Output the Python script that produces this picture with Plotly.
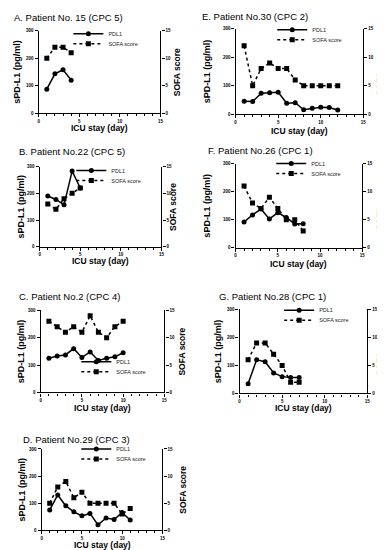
import plotly.graph_objects as go

W, H = 385, 550

# ---------------- data ----------------
panel_titles = [
    "A. Patient No. 15 (CPC 5)",
    "B. Patient No.22 (CPC 5)",
    "C. Patient No.2 (CPC 4)",
    "D. Patient No.29 (CPC 3)",
    "E. Patient No.30 (CPC 2)",
    "F. Patient No.26 (CPC 1)",
    "G. Patient No.28 (CPC 1)",
]

days_A = [1, 2, 3, 4]
pdl1_A = [87, 143, 158, 120]
sofa_A = [10, 12, 12, 11]

days_B = [1, 2, 3, 4, 5]
pdl1_B = [190, 177, 157, 283, 220]
sofa_B = [8, 7, 9, 10, 11]

days_C = [1, 2, 3, 4, 5, 6, 7, 8, 9, 10]
pdl1_C = [125, 133, 137, 160, 128, 148, 117, 125, 130, 145]
sofa_C = [13, 12, 11, 12, 11, 14, 11, 10, 12, 13]

days_D = [1, 2, 3, 4, 5, 6, 7, 8, 9, 10, 11]
pdl1_D = [75, 130, 90, 68, 53, 62, 20, 45, 40, 65, 38]
sofa_D = [5, 8, 9, 6, 7, 5, 5, 5, 5, 3, 4]

days_E = [1, 2, 3, 4, 5, 6, 7, 8, 9, 10, 11, 12]
pdl1_E = [45, 44, 73, 75, 77, 38, 40, 15, 20, 24, 23, 14]
sofa_E = [12, 5, 8, 9, 8, 8, 6, 5, 5, 5, 5, 5]

days_F = [1, 2, 3, 4, 5, 6, 7, 8]
pdl1_F = [92, 117, 138, 103, 125, 108, 85, 86]
sofa_F = [11, 8, 7, 9, 7, 5, 5, 3]

days_G = [1, 2, 3, 4, 5, 6, 7]
pdl1_G = [35, 120, 113, 73, 60, 57, 57]
sofa_G = [6, 9, 9, 7, 5, 2, 2]

x_ticks = [0, 5, 10, 15]
left_ticks = [0, 100, 200, 300]
right_ticks = [0, 5, 10, 15]

series_days = [days_A, days_B, days_C, days_D, days_E, days_F, days_G]
series_pdl1 = [pdl1_A, pdl1_B, pdl1_C, pdl1_D, pdl1_E, pdl1_F, pdl1_G]
series_sofa = [sofa_A, sofa_B, sofa_C, sofa_D, sofa_E, sofa_F, sofa_G]

# ---------------- layout geometry (pixels) ----------------
# plot box: x0, x1, ytop, ybottom
boxes = [
    (30, 153, 21, 104),
    (31, 154, 158, 239),
    (32, 157, 303, 386),
    (33, 155, 443, 525),
    (229, 358, 19, 105),
    (229, 357, 155, 240),
    (233, 362, 302, 387),
]
title_pos = [(3, 8), (8, 143), (8, 289), (12, 433), (193, 7), (199, 142), (210, 289)]
xtitle_y = [119, 253, 402, 540, 122, 256, 402]
ltitle_x = [8, 12, 12, 13, 201, 200, 212]
rtitle_x = [170, 165, 175, 175, 375, 375, 375]
legend_pos = [(93, 33), (96, 171), (101, 364), (101, 452), (299, 29), (298, 164), (306, 312)]

FONT = "Liberation Sans, Arial, sans-serif"


def px(x):
    return x / W


def py(y):
    return 1 - y / H


fig = go.Figure()
layout = dict(
    width=W, height=H,
    margin=dict(l=0, r=0, t=0, b=0),
    paper_bgcolor="white", plot_bgcolor="white",
    font=dict(family=FONT, color="black"),
    showlegend=True,
)
annotations = []

axis_common = dict(
    showline=True, linecolor="black", linewidth=1.3,
    ticks="outside", ticklen=3, tickwidth=1, tickcolor="black",
    showgrid=False, zeroline=False,
    tickfont=dict(size=4.5, family=FONT, color="black", weight="bold"),
)

for k in range(7):
    x0, x1, yt, yb = boxes[k]
    xa = "xaxis" if k == 0 else f"xaxis{k+1}"
    xr = "x" if k == 0 else f"x{k+1}"
    yl_n = 2 * k + 1
    yr_n = 2 * k + 2
    yl = "yaxis" if yl_n == 1 else f"yaxis{yl_n}"
    ylr = "y" if yl_n == 1 else f"y{yl_n}"
    yr = f"yaxis{yr_n}"
    yrr = f"y{yr_n}"

    layout[xa] = dict(
        axis_common, domain=[px(x0), px(x1)], anchor=ylr,
        range=[0, 15], tickvals=x_ticks,
        minor=dict(dtick=1, ticks="outside", ticklen=2, tickcolor="black", tickwidth=1),
    )
    layout[yl] = dict(
        axis_common, domain=[py(yb), py(yt)], anchor=xr,
        range=[0, 300], tickvals=left_ticks,
    )
    layout[yr] = dict(
        axis_common, domain=[py(yb), py(yt)], anchor=xr,
        overlaying=ylr, side="right",
        range=[0, 15], tickvals=right_ticks,
    )

    lg1 = f"legend{2 * k + 1}" if 2 * k + 1 > 1 else "legend"
    lg2 = f"legend{2 * k + 2}"
    lx, ly = legend_pos[k]
    for lg, yy in ((lg1, ly), (lg2, ly + 10)):
        layout[lg] = dict(
            x=px(lx - 33), y=py(yy - 9), xanchor="left", yanchor="middle",
            bgcolor="rgba(0,0,0,0)", borderwidth=0,
            font=dict(size=5.5, family=FONT, color="#222"),
        )

    fig.add_trace(go.Scatter(
        x=series_days[k], y=series_pdl1[k], name="PDL1",
        mode="lines+markers", xaxis=xr, yaxis=ylr,
        line=dict(color="black", width=1.5),
        marker=dict(symbol="circle", size=5, color="black"),
        legend=lg1,
    ))
    fig.add_trace(go.Scatter(
        x=series_days[k], y=series_sofa[k], name="SOFA score",
        mode="lines+markers", xaxis=xr, yaxis=yrr,
        line=dict(color="black", width=1.5, dash="dot"),
        marker=dict(symbol="square", size=5, color="black"),
        legend=lg2,
    ))

    tx, ty = title_pos[k]
    annotations.append(dict(
        text=panel_titles[k], x=px(tx), y=py(ty), xref="paper", yref="paper",
        xanchor="left", yanchor="middle", showarrow=False,
        font=dict(size=9.5, family=FONT, color="black"),
    ))
    annotations.append(dict(
        text="<b>ICU stay (day)</b>", x=px((x0 + x1) / 2), y=py(xtitle_y[k]),
        xref="paper", yref="paper", xanchor="center", yanchor="middle",
        showarrow=False, font=dict(size=8.5, family=FONT, color="black"),
    ))
    annotations.append(dict(
        text="<b>sPD-L1 (pg/ml)</b>", x=px(ltitle_x[k]), y=py((yt + yb) / 2),
        xref="paper", yref="paper", xanchor="center", yanchor="middle",
        textangle=-90, showarrow=False,
        font=dict(size=9, family=FONT, color="black"),
    ))
    annotations.append(dict(
        text="<b>SOFA score</b>", x=px(rtitle_x[k]), y=py((yt + yb) / 2),
        xref="paper", yref="paper", xanchor="center", yanchor="middle",
        textangle=-90, showarrow=False,
        font=dict(size=8.5, family=FONT, color="black"),
    ))

layout["annotations"] = annotations
fig.update_layout(**layout)
fig.write_html("out.html")
